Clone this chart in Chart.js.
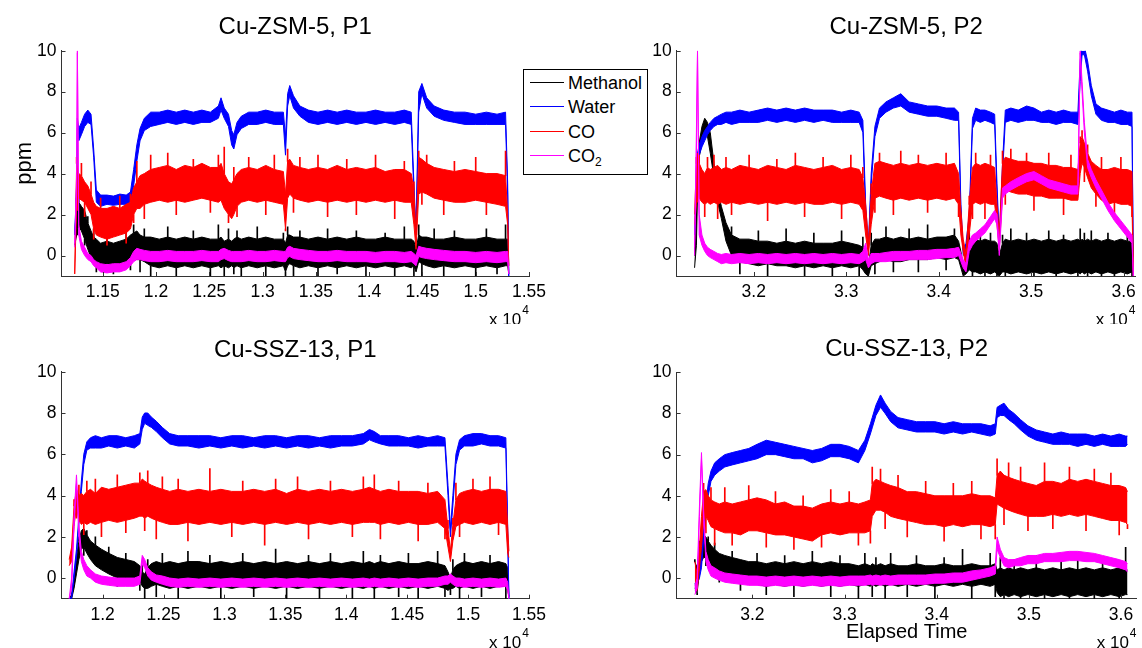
<!DOCTYPE html>
<html>
<head>
<meta charset="utf-8">
<script src="https://cdn.jsdelivr.net/npm/chart.js@4.4.1/dist/chart.umd.min.js"></script>
<style>
body { margin: 0; width: 1142px; height: 648px; overflow: hidden; background: #fff; position: relative;
       font-family: 'Liberation Sans', Arial, sans-serif; }
canvas { position: absolute; }
#legend { position: absolute; left: 523px; top: 69px; width: 123px; height: 104px; border: 1px solid #000; background: #fff; }
#legend .row { position: absolute; left: 0; height: 24px; line-height: 24px; font-size: 18px; color: #000; }
#legend .ln { position: absolute; left: 6px; top: 11px; width: 34px; height: 0; border-top: 1.5px solid; }
#legend .tx { position: absolute; left: 44px; top: 0; white-space: nowrap; }
#legend sub { font-size: 12px; vertical-align: -4px; }
</style>
</head>
<body>
<canvas id="zsmP1" width="571" height="324" style="left:0;top:0"></canvas>
<canvas id="zsmP2" width="571" height="324" style="left:571px;top:0"></canvas>
<canvas id="sszP1" width="571" height="324" style="left:0;top:324px"></canvas>
<canvas id="sszP2" width="571" height="324" style="left:571px;top:324px"></canvas>

<div id="legend">
  <div class="row" style="top:1px"><span class="ln" style="border-color:#000"></span><span class="tx">Methanol</span></div>
  <div class="row" style="top:25px"><span class="ln" style="border-color:#0000ff"></span><span class="tx">Water</span></div>
  <div class="row" style="top:50px"><span class="ln" style="border-color:#ff0000"></span><span class="tx">CO</span></div>
  <div class="row" style="top:74px"><span class="ln" style="border-color:#ff00ff"></span><span class="tx">CO<sub>2</sub></span></div>
</div>

<script>
// tick values
const yTicks = [0, 2, 4, 6, 8, 10];
const zsmP1Ticks = [11500, 12000, 12500, 13000, 13500, 14000, 14500, 15000, 15500];
const sszP1Ticks = [12000, 12500, 13000, 13500, 14000, 14500, 15000, 15500];
const p2Ticks = [32000, 33000, 34000, 35000, 36000];

// Cu-ZSM-5, P1  (Lo / Hi = edges of the dense noise band, Spk = single spike reading at that time)
const zsmP1T = [11237,11255,11262,11275,11300,11330,11360,11390,11415,11440,
  11480,11540,11600,11660,11720,11760,11790,11820,11850,11890,
  11950,12030,12110,12190,12270,12350,12430,12510,12585,12610,
  12640,12680,12710,12730,12760,12800,12870,12950,13030,13110,
  13195,13215,13235,13255,13290,13350,13430,13520,13610,13700,
  13790,13880,13970,14060,14150,14240,14330,14395,14420,14440,
  14465,14495,14540,14610,14700,14800,14900,15000,15100,15200,
  15280,15300,15310];
const zsmP1MethLo = [0.5,1.0,1.3,1.4,1.2,0.8,0.3,-0.1,-0.3,-0.4,
  -0.5,-0.4,-0.5,-0.4,-0.3,-0.2,-0.1,-0.2,-0.2,-0.3,
  -0.5,-0.6,-0.5,-0.6,-0.5,-0.6,-0.5,-0.6,-0.5,-0.6,
  -0.5,-0.6,-0.5,-0.6,-0.5,-0.6,-0.5,-0.6,-0.5,-0.6,
  -0.5,-0.8,-0.5,-0.4,-0.5,-0.6,-0.5,-0.6,-0.5,-0.6,
  -0.5,-0.6,-0.5,-0.6,-0.5,-0.6,-0.5,-0.6,-0.5,-0.8,
  -0.3,-0.4,-0.5,-0.6,-0.5,-0.6,-0.5,-0.6,-0.5,-0.6,
  -0.5,-0.5,-0.9];
const zsmP1MethHi = [1.0,2.5,2.7,2.6,2.4,2.2,1.6,1.2,0.9,0.8,
  0.6,0.7,0.6,0.7,0.8,1.0,1.1,1.2,1.0,0.9,
  0.9,0.8,0.9,0.8,0.9,0.8,0.9,0.8,0.8,0.9,
  0.7,0.8,0.7,0.8,0.9,0.8,0.9,0.8,0.9,0.8,
  0.8,0.6,1.0,1.0,0.9,0.9,0.8,0.9,0.8,0.9,
  0.8,0.9,0.8,0.8,0.9,0.8,0.8,0.8,0.7,0.3,
  1.0,0.9,0.9,0.8,0.8,0.9,0.8,0.8,0.9,0.8,
  0.8,0.8,-0.9];
const zsmP1MethSpk = [0.8,2.8,1.0,2.9,2.0,0.5,1.9,0.5,1.3,-0.8,
  0.0,1.2,-0.9,0.1,1.3,-0.7,1.5,0.5,-0.8,1.3,
  -1.0,0.2,1.4,-1.0,0.2,1.2,0.1,-1.0,1.5,0.2,
  -1.0,1.3,0.1,-0.9,1.2,-1.0,0.3,1.4,-1.0,0.2,
  1.1,-1.0,1.4,0.2,-1.0,1.2,0.1,-1.0,1.3,-0.9,
  0.2,1.2,-1.0,0.3,1.1,-1.0,1.4,0.1,-1.0,-0.5,
  1.5,-1.0,0.2,1.3,-1.0,1.2,0.2,-1.0,1.3,-0.9,
  1.5,0.1,-0.9];
const zsmP1WaterLo = [1,3,6.2,5.6,5.9,6.3,6.5,6.4,4.8,2.6,
  2.4,2.5,2.45,2.5,2.5,2.6,3.4,4.6,5.6,6.1,
  6.3,6.4,6.5,6.4,6.5,6.4,6.5,6.5,6.7,7.1,
  6.7,6.3,5.4,5.2,5.9,6.2,6.4,6.4,6.5,6.4,
  6.4,4.9,7.3,7.8,7.2,6.8,6.5,6.4,6.5,6.4,
  6.5,6.4,6.5,6.4,6.5,6.4,6.5,6.4,3,1,
  7.0,7.9,7.2,6.8,6.6,6.5,6.4,6.4,6.4,6.4,
  6.4,3,-1];
const zsmP1WaterHi = [1,3.5,6.7,6.2,6.5,6.9,7.1,6.9,5.2,3.2,
  2.95,2.95,2.9,3.0,2.95,3.1,4.2,5.4,6.2,6.7,
  7.0,7.0,7.1,7.0,7.1,7.0,7.1,7.0,7.3,7.7,
  7.2,6.9,6.1,5.9,6.5,6.8,7.0,7.0,7.1,7.0,
  7.0,5.8,7.9,8.3,7.8,7.3,7.1,7.0,7.1,7.0,
  7.1,7.0,7.0,7.1,7.0,7.0,7.1,7.0,3.5,1.2,
  8.0,8.4,7.7,7.3,7.1,7.0,7.0,6.9,7.0,6.9,
  7.0,3.5,-1];
const zsmP1CoLo = [-0.9,2.5,3.0,2.8,2.7,2.6,2.3,2.0,1.3,1.0,
  0.9,0.8,0.9,1.0,1.1,1.3,2.0,2.3,2.3,2.5,
  2.6,2.7,2.6,2.7,2.6,2.7,2.8,2.7,2.6,2.7,
  2.3,2.0,1.8,2.0,2.4,2.6,2.7,2.6,2.7,2.6,
  2.5,1.3,2.8,3.0,2.8,2.7,2.6,2.7,2.6,2.7,
  2.6,2.7,2.6,2.7,2.6,2.7,2.6,2.6,1.5,0.3,
  3.0,3.1,3.0,2.8,2.7,2.6,2.6,2.7,2.6,2.5,
  2.4,1.5,-0.5];
const zsmP1CoHi = [-0.9,4.5,4.3,4.0,3.9,3.6,3.4,3.0,2.6,2.4,
  2.3,2.3,2.4,2.3,2.5,2.6,3.3,3.6,3.9,4.0,
  4.2,4.3,4.4,4.2,4.4,4.3,4.5,4.3,4.3,4.5,
  4.0,3.6,3.5,3.7,4.0,4.2,4.3,4.2,4.4,4.2,
  4.1,3.0,4.6,4.7,4.4,4.3,4.2,4.3,4.2,4.4,
  4.2,4.3,4.2,4.3,4.1,4.2,4.2,4.0,3.2,1.0,
  4.8,4.7,4.5,4.3,4.2,4.1,4.2,4.1,4.0,4.0,
  3.9,2.0,-0.5];
const zsmP1CoSpk = [-0.9,4.8,2.2,3.5,4.5,1.9,3.0,3.6,0.8,2.0,
  2.8,0.5,1.5,2.9,0.6,3.0,1.6,4.6,3.0,1.8,
  4.9,3.5,5.0,2.0,3.5,4.7,3.6,2.1,4.9,3.5,
  5.3,1.6,2.5,4.3,1.9,3.4,4.8,3.4,2.0,4.9,
  3.3,1.2,5.2,3.8,2.1,4.8,3.4,4.9,1.9,3.5,
  4.7,2.0,3.4,4.9,3.3,1.8,4.6,3.3,3.6,0.6,
  5.1,2.5,4.9,3.5,2.0,4.6,3.4,4.8,2.0,3.3,
  5.1,1.8,-0.5];
const zsmP1Co2Lo = [0.4,3,9.9,1.0,0.3,0.0,-0.2,-0.3,-0.5,-0.6,
  -0.8,-0.85,-0.8,-0.8,-0.7,-0.5,-0.3,-0.2,-0.2,-0.25,
  -0.3,-0.3,-0.25,-0.3,-0.3,-0.3,-0.25,-0.3,-0.3,-0.2,
  -0.15,-0.25,-0.3,-0.3,-0.3,-0.3,-0.25,-0.3,-0.3,-0.25,
  -0.3,-0.3,-0.1,-0.05,-0.15,-0.2,-0.25,-0.3,-0.3,-0.25,
  -0.3,-0.3,-0.3,-0.35,-0.3,-0.3,-0.35,-0.3,-0.4,-0.5,
  -0.05,-0.1,-0.15,-0.2,-0.25,-0.3,-0.3,-0.35,-0.3,-0.35,
  -0.3,-0.3,-0.9];
const zsmP1Co2Hi = [0.6,4,10,1.5,0.7,0.4,0.1,0.0,-0.2,-0.3,
  -0.4,-0.45,-0.4,-0.4,-0.3,-0.1,0.2,0.35,0.3,0.25,
  0.2,0.2,0.25,0.2,0.2,0.2,0.25,0.2,0.2,0.3,
  0.35,0.25,0.2,0.2,0.2,0.2,0.25,0.2,0.2,0.25,
  0.2,0.2,0.4,0.45,0.35,0.3,0.25,0.2,0.2,0.25,
  0.2,0.2,0.2,0.15,0.2,0.2,0.15,0.2,0.1,0.0,
  0.45,0.4,0.35,0.3,0.25,0.2,0.2,0.15,0.2,0.15,
  0.2,0.2,-0.9];

// Cu-ZSM-5, P2
const zsmP2T = [31360,31380,31392,31410,31440,31470,31500,31530,31570,31610,
  31650,31700,31760,31850,31950,32050,32150,32250,32350,32450,
  32550,32650,32750,32850,32950,33050,33140,33180,33210,33240,
  33270,33310,33360,33430,33510,33590,33680,33780,33880,33980,
  34080,34170,34215,34240,34265,34295,34330,34365,34400,34450,
  34500,34560,34605,34630,34655,34690,34720,34780,34860,34950,
  35030,35110,35190,35270,35350,35430,35505,35530,35550,35575,
  35610,35650,35700,35760,35830,35900,35970,36040,36090,36105];
const zsmP2MethLo = [-0.6,0.5,3.0,4.8,5.5,6.0,5.8,5.0,3.8,2.6,
  1.8,0.7,0.0,-0.3,-0.4,-0.5,-0.4,-0.5,-0.5,-0.6,
  -0.5,-0.6,-0.5,-0.6,-0.5,-0.6,-0.5,-0.7,-0.9,-1,
  -0.5,-0.4,-0.3,-0.2,-0.3,-0.3,-0.2,-0.2,-0.2,-0.1,
  -0.2,-0.1,-0.2,-0.6,-1,-0.9,-0.7,-0.8,-0.8,-0.9,
  -0.8,-0.9,-0.8,-0.9,-1,-0.8,-0.8,-0.9,-0.8,-0.9,
  -0.8,-0.9,-0.8,-0.9,-0.8,-0.9,-0.8,-0.9,-0.8,-0.9,
  -0.8,-0.9,-0.8,-0.9,-0.8,-0.9,-0.8,-0.9,-0.8,-1];
const zsmP2MethHi = [0.0,2.5,4.5,5.5,6.3,6.7,6.5,6.0,4.5,3.2,
  2.4,1.6,1.0,0.8,0.8,0.7,0.7,0.6,0.7,0.6,
  0.7,0.6,0.6,0.6,0.7,0.6,0.5,0.4,0.2,-0.5,
  0.5,0.8,0.8,0.9,0.8,0.9,0.8,0.9,0.8,0.9,
  0.9,1.0,0.7,0.2,-0.5,-0.4,0.5,0.8,0.8,0.7,
  0.8,0.7,0.7,0.6,0.0,0.6,0.8,0.7,0.8,0.7,
  0.8,0.7,0.8,0.7,0.8,0.7,0.8,0.7,0.8,0.7,
  0.8,0.7,0.8,0.7,0.8,0.7,0.8,0.7,0.7,-1];
const zsmP2MethSpk = [-0.3,1.5,3.8,5.2,6.0,6.4,6.1,5.5,4.1,2.9,
  2.1,1.1,1.4,-0.9,0.2,1.2,-1.0,0.1,1.3,0.0,
  -1.0,1.1,0.0,-1.0,1.2,0.0,-1.0,0.9,-0.3,-0.8,
  1.1,-0.9,0.3,1.4,-0.8,0.3,1.3,-0.8,1.5,0.4,
  -0.7,1.3,0.2,-0.3,-0.8,-0.7,1.1,-1.0,0.0,1.2,
  -1.0,1.1,0.0,-1.0,-0.5,1.0,-1.0,1.3,0.0,1.1,
  -1.0,0.0,1.2,-1.0,1.0,0.0,-1.0,1.3,0.0,1.1,
  -1.0,1.2,0.0,-1.0,1.1,-1.0,0.0,1.0,-1.0,-1];
const zsmP2WaterLo = [1,3,4.5,4.9,5.3,5.6,5.9,6.1,6.3,6.4,
  6.4,6.5,6.4,6.5,6.5,6.5,6.6,6.5,6.6,6.5,
  6.6,6.5,6.6,6.5,6.5,6.5,6.5,6.0,2.0,0.2,
  3.5,5.8,6.7,7.0,7.2,7.3,7.0,6.9,6.8,6.8,
  6.7,6.6,6.6,2.0,0.0,0.3,1.5,6.2,6.6,6.5,
  6.6,6.5,6.4,3.0,0.5,4.0,6.5,6.6,6.5,6.6,
  6.6,6.5,6.5,6.4,6.5,6.5,6.4,8.5,9.8,9.8,
  9.0,7.8,6.9,6.6,6.5,6.5,6.4,6.4,6.3,-1];
const zsmP2WaterHi = [1,3.5,5.0,5.4,5.8,6.1,6.3,6.5,6.7,6.8,
  6.9,7.0,7.0,7.1,7.0,7.1,7.2,7.1,7.2,7.1,
  7.2,7.1,7.1,7.1,7.0,7.1,7.0,6.6,2.5,0.5,
  4.0,6.3,7.2,7.5,7.7,7.9,7.5,7.4,7.3,7.3,
  7.2,7.2,7.0,2.5,0.3,0.6,2.0,6.7,7.2,7.1,
  7.1,7.0,6.9,3.5,0.8,4.5,7.1,7.2,7.1,7.3,
  7.2,7.0,7.1,7.0,7.1,7.0,7.0,9.5,10.5,10.2,
  9.5,8.3,7.4,7.2,7.1,7.0,7.1,7.0,7.0,-1];
const zsmP2CoLo = [1.5,2.5,3.5,2.8,2.6,2.5,2.6,2.5,2.6,2.5,
  2.6,2.5,2.6,2.5,2.6,2.5,2.6,2.5,2.6,2.5,
  2.6,2.5,2.5,2.6,2.5,2.6,2.5,2.2,1.0,0.0,
  1.5,2.8,2.9,2.8,2.7,2.8,2.7,2.8,2.7,2.8,
  2.7,2.8,2.5,1.0,0.2,-0.6,1.0,2.5,2.6,2.5,
  2.6,2.5,2.5,1.5,0.3,3.0,3.2,3.1,3.0,3.0,
  2.9,2.9,2.8,2.8,2.8,2.7,2.7,4.0,4.5,4.3,
  3.8,3.3,3.0,2.7,2.5,2.6,2.5,2.5,2.4,-1];
const zsmP2CoHi = [2.0,4.5,5.0,4.5,4.2,4.0,4.3,4.2,4.3,4.4,
  4.2,4.3,4.2,4.4,4.3,4.2,4.4,4.3,4.2,4.4,
  4.3,4.2,4.3,4.4,4.2,4.3,4.2,3.8,2.5,0.6,
  3.0,4.5,4.6,4.5,4.4,4.5,4.4,4.5,4.4,4.5,
  4.4,4.5,4.0,2.2,0.8,0.1,2.5,4.3,4.5,4.4,
  4.5,4.4,4.3,2.5,1.0,4.5,4.8,4.7,4.6,4.6,
  4.5,4.5,4.4,4.4,4.3,4.3,4.2,5.5,5.8,5.5,
  5.0,4.6,4.4,4.2,4.2,4.3,4.2,4.2,4.1,-1];
const zsmP2CoSpk = [1.8,4.8,2.6,4.9,3.4,1.9,4.8,3.3,4.9,1.8,
  3.4,4.8,2.0,3.5,4.9,3.4,1.7,4.7,3.4,5.0,
  1.9,3.5,4.8,3.3,1.8,4.9,3.4,4.3,1.8,0.3,
  3.5,2.1,5.0,3.6,2.0,5.1,3.5,4.9,2.1,3.6,
  5.0,3.5,1.9,1.6,0.5,-0.3,2.9,1.8,5.0,3.4,
  1.8,4.9,3.4,2.0,0.6,5.1,2.5,5.2,3.8,5.0,
  2.2,3.7,5.0,3.6,2.0,4.9,3.5,5.8,6.1,3.6,
  5.4,3.9,2.4,4.8,3.4,1.9,4.8,3.3,1.9,-1];
const zsmP2Co2Lo = [0.0,5,9.9,1.0,0.5,0.2,0.0,-0.1,-0.2,-0.3,
  -0.4,-0.35,-0.4,-0.35,-0.4,-0.35,-0.4,-0.35,-0.4,-0.35,
  -0.4,-0.35,-0.4,-0.35,-0.4,-0.35,-0.4,-0.3,-0.2,-0.6,
  -0.4,-0.3,-0.3,-0.3,-0.25,-0.25,-0.2,-0.2,-0.2,-0.15,
  -0.1,-0.1,0.0,-0.3,-0.6,-0.8,0.2,0.5,0.7,0.9,
  1.1,1.5,1.8,1.5,0.0,2.8,3.0,3.2,3.4,3.6,
  3.7,3.5,3.3,3.2,3.1,3.0,3.0,9.9,8.0,6.0,
  4.3,3.8,3.3,2.8,2.2,1.7,1.3,0.9,0.6,-1];
const zsmP2Co2Hi = [0.4,6,10,2.0,1.0,0.6,0.4,0.3,0.2,0.1,
  0.05,0.1,0.05,0.1,0.05,0.1,0.05,0.1,0.05,0.1,
  0.05,0.1,0.05,0.1,0.05,0.1,0.05,0.2,0.6,-0.2,
  0.1,0.1,0.1,0.15,0.2,0.2,0.2,0.25,0.25,0.3,
  0.3,0.35,0.4,0.1,-0.2,-0.4,0.7,1.0,1.1,1.3,
  1.5,1.9,2.2,2.0,0.5,3.3,3.4,3.6,3.8,4.0,
  4.1,3.9,3.7,3.6,3.5,3.4,3.4,10,8.5,6.5,
  4.7,4.2,3.7,3.2,2.6,2.1,1.7,1.3,1.0,-1];

// Cu-SSZ-13, P1
const sszP1T = [11725,11745,11765,11785,11805,11825,11845,11870,11900,11940,
  11990,12050,12120,12190,12260,12305,12325,12345,12370,12400,
  12440,12490,12550,12620,12700,12790,12880,12970,13060,13150,
  13240,13330,13420,13510,13600,13690,13780,13870,13960,14050,
  14140,14190,14230,14280,14350,14430,14510,14590,14670,14750,
  14810,14835,14855,14875,14900,14930,14970,15040,15110,15180,
  15250,15310,15325,15335];
const sszP1MethLo = [-1,-1,-0.5,0.2,0.9,1.4,1.5,1.2,0.9,0.6,
  0.4,0.2,0.0,-0.1,-0.1,-0.1,-0.4,-0.5,-0.5,-0.4,
  -0.3,-0.4,-0.5,-0.4,-0.5,-0.4,-0.5,-0.4,-0.5,-0.4,
  -0.5,-0.4,-0.5,-0.4,-0.5,-0.4,-0.5,-0.4,-0.5,-0.4,
  -0.5,-0.4,-0.5,-0.4,-0.5,-0.4,-0.5,-0.4,-0.5,-0.4,
  -0.5,-0.6,-0.5,-0.5,-0.4,-0.5,-0.4,-0.5,-0.4,-0.5,
  -0.4,-0.4,-0.6,-0.9];
const sszP1MethHi = [-1,-0.8,0.0,1.0,1.8,2.3,2.4,2.1,1.8,1.6,
  1.4,1.2,1.0,0.9,0.8,0.6,0.3,0.2,0.5,0.7,
  0.8,0.7,0.8,0.7,0.8,0.8,0.7,0.8,0.7,0.8,
  0.7,0.8,0.7,0.8,0.7,0.8,0.7,0.8,0.7,0.8,
  0.7,0.8,0.7,0.8,0.7,0.8,0.7,0.7,0.8,0.7,
  0.6,0.3,0.0,0.4,0.6,0.7,0.8,0.7,0.8,0.7,
  0.8,0.7,0.5,-0.9];
const sszP1MethSpk = [-1,-0.9,-0.2,0.6,2.0,1.8,1.1,2.3,1.3,2.0,
  0.9,1.5,-0.4,1.2,0.3,-0.6,0.6,-1.0,0.9,0.2,
  -0.9,1.2,0.2,-1.0,1.3,0.2,1.1,-1.0,0.1,1.2,
  -0.9,0.2,1.4,-1.0,0.1,1.1,-1.0,1.2,0.2,-1.0,
  1.3,0.1,-1.0,1.1,0.2,-0.9,1.2,-1.0,0.2,1.3,
  -0.9,-0.2,-0.8,0.9,0.1,-1.0,1.2,0.1,-0.9,1.1,
  0.2,-1.0,0.0,-0.9];
const sszP1WaterLo = [-1,-1,0,1.0,2.6,4.2,5.5,6.2,6.3,6.3,
  6.3,6.4,6.3,6.4,6.3,6.5,7.2,7.5,7.4,7.3,
  7.1,6.8,6.5,6.4,6.4,6.3,6.4,6.3,6.4,6.3,
  6.4,6.3,6.4,6.3,6.4,6.3,6.4,6.3,6.4,6.4,
  6.5,6.7,6.6,6.5,6.4,6.4,6.4,6.3,6.4,6.4,
  6.4,4.0,2.0,3.5,5.5,6.2,6.4,6.4,6.5,6.4,
  6.4,6.3,2.0,-1];
const sszP1WaterHi = [-1,-0.9,0.3,1.4,3.0,4.7,6.0,6.6,6.8,6.9,
  6.8,6.9,6.9,6.8,6.9,7.0,7.8,8.0,8.0,7.8,
  7.6,7.3,7.0,6.9,6.9,6.9,6.9,6.8,6.9,6.9,
  6.8,6.9,6.9,6.8,6.9,6.9,6.8,6.9,6.9,6.9,
  7.0,7.2,7.1,6.9,6.9,6.9,6.8,6.9,6.8,6.9,
  6.8,4.5,2.4,4.0,6.0,6.7,6.9,7.0,7.0,6.9,
  6.9,6.8,2.5,-1];
const sszP1CoLo = [0.6,0.8,2.5,3.5,2.8,2.6,2.7,2.6,2.7,2.6,
  2.7,2.8,2.7,2.8,2.9,3.0,3.0,2.9,3.0,2.9,
  2.8,2.7,2.6,2.6,2.7,2.6,2.7,2.6,2.7,2.6,
  2.7,2.6,2.7,2.6,2.7,2.6,2.7,2.6,2.7,2.6,
  2.7,2.7,2.7,2.6,2.7,2.6,2.7,2.6,2.6,2.7,
  2.4,1.5,0.8,1.8,2.5,2.6,2.7,2.6,2.7,2.6,
  2.7,2.6,1.2,1.0];
const sszP1CoHi = [0.9,1.5,3.5,4.3,4.0,4.1,4.0,4.2,4.3,4.1,
  4.4,4.3,4.4,4.5,4.6,4.6,4.8,4.7,4.6,4.5,
  4.4,4.3,4.2,4.3,4.2,4.3,4.2,4.3,4.2,4.2,
  4.3,4.2,4.3,4.1,4.3,4.2,4.3,4.2,4.3,4.2,
  4.3,4.4,4.3,4.2,4.3,4.2,4.2,4.2,4.1,4.2,
  3.8,2.4,1.3,2.6,3.8,4.1,4.2,4.3,4.2,4.3,
  4.3,4.2,2.5,1.3];
const sszP1CoSpk = [0.8,1.2,3.8,2.9,4.5,3.3,2.1,4.7,3.5,4.8,
  2.0,3.6,5.0,2.2,3.7,5.1,3.8,2.3,5.2,3.6,
  1.9,4.9,3.4,4.8,1.8,3.4,5.3,3.5,2.0,4.7,
  3.5,1.6,4.8,3.3,4.9,1.9,3.5,4.7,3.5,2.0,
  4.9,3.5,5.0,1.9,3.5,4.7,3.4,1.8,4.6,3.4,
  1.9,2.8,1.0,2.9,4.6,2.0,3.5,4.8,3.4,4.9,
  2.1,3.4,1.8,1.1];
const sszP1Co2Lo = [-1,-0.5,2.5,4.6,2.0,0.8,0.4,0.1,0.0,-0.2,
  -0.3,-0.35,-0.4,-0.4,-0.4,-0.3,0.7,0.5,0.1,-0.1,
  -0.2,-0.3,-0.4,-0.45,-0.4,-0.45,-0.4,-0.45,-0.4,-0.45,
  -0.4,-0.45,-0.4,-0.45,-0.4,-0.45,-0.4,-0.45,-0.4,-0.45,
  -0.4,-0.45,-0.4,-0.45,-0.4,-0.45,-0.4,-0.45,-0.4,-0.4,
  -0.3,-0.3,-0.2,-0.3,-0.4,-0.4,-0.45,-0.4,-0.45,-0.4,
  -0.45,-0.4,-0.6,-1];
const sszP1Co2Hi = [-1,0,3.0,5.0,2.6,1.3,0.9,0.6,0.4,0.2,
  0.1,0.05,0.0,0.0,0.0,0.1,1.1,0.9,0.5,0.3,
  0.15,0.1,0.0,-0.05,0.0,-0.05,0.0,-0.05,0.0,-0.05,
  0.0,-0.05,0.0,-0.05,0.0,-0.05,0.0,-0.05,0.0,-0.05,
  0.0,-0.05,0.0,-0.05,0.0,-0.05,0.0,-0.05,0.0,0.0,
  0.1,0.1,0.2,0.1,0.0,0.0,-0.05,0.0,-0.05,0.0,
  -0.05,0.0,-0.2,-1];

// Cu-SSZ-13, P2
const sszP2T = [31375,31400,31425,31447,31470,31495,31520,31550,31590,31640,
  31700,31780,31870,31960,32050,32150,32250,32350,32450,32550,
  32650,32750,32850,32950,33050,33150,33220,33280,33300,33340,
  33390,33440,33500,33580,33680,33780,33880,33980,34080,34180,
  34280,34380,34480,34580,34635,34655,34690,34730,34780,34840,
  34910,34990,35080,35170,35260,35350,35440,35530,35620,35710,
  35800,35890,35980,36050,36070];
const sszP2MethLo = [-0.6,-0.7,0.3,0.8,1.0,1.0,0.8,0.6,0.4,0.2,
  0.1,0.0,-0.1,-0.2,-0.3,-0.4,-0.3,-0.4,-0.3,-0.4,
  -0.3,-0.4,-0.3,-0.4,-0.3,-0.4,-0.3,-0.4,-0.3,-0.4,
  -0.3,-0.4,-0.3,-0.4,-0.3,-0.4,-0.3,-0.4,-0.3,-0.4,
  -0.3,-0.4,-0.3,-0.4,-0.3,-0.7,-0.9,-0.8,-0.9,-0.8,
  -0.9,-0.8,-0.9,-0.8,-0.9,-0.8,-0.9,-0.8,-0.9,-0.8,
  -0.9,-0.8,-0.9,-0.8,-0.8];
const sszP2MethHi = [0.8,0.5,1.5,2.0,2.1,2.0,1.8,1.6,1.4,1.2,
  1.1,1.0,0.9,0.8,0.8,0.7,0.8,0.7,0.8,0.7,
  0.8,0.7,0.8,0.7,0.7,0.6,0.7,0.6,0.7,0.6,
  0.7,0.6,0.7,0.6,0.6,0.7,0.6,0.6,0.7,0.6,
  0.6,0.7,0.6,0.6,0.7,0.4,0.5,0.4,0.5,0.4,
  0.5,0.4,0.5,0.4,0.5,0.4,0.5,0.4,0.5,0.4,
  0.5,0.4,0.5,0.4,0.4];
const sszP2MethSpk = [0.9,-0.8,1.8,1.4,2.4,0.6,2.0,1.1,1.7,-0.2,
  0.6,1.3,-0.6,0.3,1.2,-0.8,0.2,1.1,-0.9,0.1,
  1.3,0.1,-0.9,1.1,0.2,-1.0,1.2,0.1,-0.9,1.0,
  0.2,-1.0,1.2,0.1,-0.9,1.1,0.1,-1.0,1.0,0.2,
  1.4,-1.0,0.1,1.2,-0.9,0.0,1.0,-1.0,0.0,0.9,
  -1.0,0.0,1.1,-1.0,0.0,0.9,-1.0,1.2,0.0,-1.0,
  1.0,0.0,-1.0,1.5,0.0];
const sszP2WaterLo = [-0.5,-0.3,0,0.5,1.8,3.0,4.0,4.7,5.0,5.2,
  5.4,5.5,5.6,5.7,5.8,6.0,6.0,5.9,5.8,5.8,
  5.6,5.7,5.9,5.9,5.8,5.6,6.2,7.0,7.3,7.9,
  8.3,8.0,7.6,7.3,7.2,7.1,7.1,7.1,7.0,7.1,
  7.0,7.1,7.0,6.9,7.0,7.8,7.9,7.9,7.7,7.5,
  7.2,6.9,6.7,6.6,6.5,6.5,6.5,6.4,6.5,6.4,
  6.5,6.4,6.4,6.4,6.5];
const sszP2WaterHi = [-0.3,0,0.4,1.0,2.4,3.6,4.6,5.2,5.6,5.8,
  6.0,6.1,6.2,6.3,6.5,6.7,6.6,6.5,6.4,6.3,
  6.2,6.3,6.5,6.5,6.4,6.2,6.7,7.5,7.8,8.4,
  8.9,8.5,8.1,7.8,7.7,7.6,7.6,7.6,7.5,7.6,
  7.5,7.5,7.5,7.4,7.5,8.3,8.4,8.5,8.2,8.0,
  7.7,7.4,7.2,7.1,7.0,7.1,7.0,7.0,7.0,6.9,
  7.0,6.9,7.0,6.9,6.9];
const sszP2CoLo = [-0.5,-0.6,0.5,1.5,2.8,3.0,2.8,2.5,2.4,2.3,
  2.2,2.2,2.1,2.3,2.3,2.2,2.1,2.1,2.0,1.9,
  1.8,2.1,2.2,2.1,2.2,2.2,2.2,2.3,3.0,3.3,
  3.3,3.2,3.0,2.9,2.8,2.7,2.6,2.6,2.5,2.6,
  2.5,2.6,2.6,2.5,2.6,3.6,3.5,3.4,3.3,3.2,
  3.1,3.0,3.0,3.0,3.1,3.0,3.1,3.0,3.1,3.0,
  2.9,2.8,2.8,2.7,2.6];
const sszP2CoHi = [0.8,0.2,1.5,3.0,4.2,4.3,4.0,3.8,3.7,3.6,
  3.7,3.6,3.7,3.8,3.9,3.8,3.6,3.7,3.5,3.5,
  3.4,3.6,3.7,3.6,3.7,3.6,3.7,3.8,4.6,4.8,
  4.7,4.6,4.5,4.4,4.2,4.2,4.1,4.0,4.0,4.0,
  4.0,4.1,4.0,4.0,3.9,5.0,5.2,5.0,4.9,4.8,
  4.7,4.6,4.5,4.7,4.7,4.6,4.8,4.7,4.8,4.7,
  4.6,4.5,4.5,4.4,4.2];
const sszP2CoSpk = [0.2,-0.2,1.0,2.2,4.6,2.2,3.4,4.4,1.6,3.0,
  4.4,1.6,2.9,4.5,3.1,1.5,4.2,2.9,1.4,4.0,
  2.6,1.5,4.3,2.8,4.2,1.6,2.9,1.7,5.4,3.9,
  5.3,2.4,3.8,5.0,2.0,3.5,4.7,3.3,1.8,4.6,
  3.2,4.7,1.9,3.3,1.9,5.8,4.3,2.6,5.6,4.0,
  5.4,2.3,3.8,5.6,2.4,3.8,5.4,3.9,2.3,5.3,
  3.8,5.1,2.1,3.5,2.4];
const sszP2Co2Lo = [-0.8,-0.5,3.0,5.8,2.8,0.8,0.4,0.1,0.0,-0.1,
  -0.2,-0.25,-0.3,-0.35,-0.35,-0.4,-0.35,-0.4,-0.35,-0.4,
  -0.35,-0.4,-0.35,-0.4,-0.35,-0.35,-0.35,-0.3,-0.35,-0.3,
  -0.35,-0.3,-0.35,-0.3,-0.3,-0.3,-0.3,-0.25,-0.25,-0.2,
  -0.2,-0.1,0.0,0.1,0.2,1.4,1.0,0.6,0.5,0.6,
  0.6,0.7,0.7,0.8,0.8,0.8,0.85,0.85,0.8,0.8,
  0.7,0.6,0.5,0.4,0.3];
const sszP2Co2Hi = [-0.4,0,3.5,6.1,3.3,1.3,0.9,0.6,0.5,0.35,
  0.25,0.2,0.15,0.1,0.1,0.05,0.1,0.05,0.1,0.05,
  0.1,0.05,0.1,0.05,0.1,0.1,0.1,0.15,0.1,0.15,
  0.1,0.15,0.1,0.15,0.15,0.15,0.15,0.2,0.2,0.25,
  0.25,0.35,0.4,0.5,0.6,2.0,1.4,1.0,0.9,0.9,
  1.0,1.1,1.1,1.2,1.2,1.25,1.3,1.3,1.25,1.2,
  1.1,1.0,0.9,0.8,0.7];

const FONT = "'Liberation Sans', Arial, sans-serif";
Chart.defaults.font.family = FONT;
Chart.defaults.color = '#000';

// MATLAB style: ticks pointing into the axes, plus the "x 10^4" exponent label
const matlabAxes = {
    id: 'matlabAxes',
    afterDraw(chart) {
        const {ctx, chartArea: a, scales: {x, y}} = chart;
        ctx.save();
        ctx.strokeStyle = '#333';
        ctx.lineWidth = 1;
        ctx.beginPath();
        x.ticks.forEach(t => {
            const px = Math.round(x.getPixelForValue(t.value)) + 0.5;
            ctx.moveTo(px, a.bottom);
            ctx.lineTo(px, a.bottom - 4);
        });
        y.ticks.forEach(t => {
            const py = Math.round(y.getPixelForValue(t.value)) + 0.5;
            ctx.moveTo(a.left, py);
            ctx.lineTo(a.left + 4, py);
        });
        ctx.stroke();
        ctx.fillStyle = '#000';
        ctx.textBaseline = 'alphabetic';
        ctx.font = '17px ' + FONT;
        const x0 = a.right - 40;
        ctx.fillText('x 10', x0, a.bottom + 49);
        const w = ctx.measureText('x 10').width;
        ctx.font = '12px ' + FONT;
        ctx.fillText('4', x0 + w + 1, a.bottom + 38);
        ctx.restore();
    }
};

const panels = [
    {id: 'zsmP1', title: 'Cu-ZSM-5, P1', t: zsmP1T,
     series: [[zsmP1MethLo, zsmP1MethHi, zsmP1MethSpk], [zsmP1WaterLo, zsmP1WaterHi],
              [zsmP1CoLo, zsmP1CoHi, zsmP1CoSpk], [zsmP1Co2Lo, zsmP1Co2Hi]],
     xMin: 11113, xMax: 15500, xTicks: zsmP1Ticks,
     yWidth: 61.5, padRight: 42, padTop: 12.6, titleGap: 9.3, xHeight: 48, yTitle: 'ppm'},
    {id: 'zsmP2', title: 'Cu-ZSM-5, P2', t: zsmP2T,
     series: [[zsmP2MethLo, zsmP2MethHi, zsmP2MethSpk], [zsmP2WaterLo, zsmP2WaterHi],
              [zsmP2CoLo, zsmP2CoHi, zsmP2CoSpk], [zsmP2Co2Lo, zsmP2Co2Hi]],
     xMin: 31167, xMax: 36130, xTicks: p2Ticks,
     yWidth: 105.7, padRight: 5.3, padTop: 12.9, titleGap: 9.0, xHeight: 48},
    {id: 'sszP1', title: 'Cu-SSZ-13, P1', t: sszP1T,
     series: [[sszP1MethLo, sszP1MethHi, sszP1MethSpk], [sszP1WaterLo, sszP1WaterHi],
              [sszP1CoLo, sszP1CoHi, sszP1CoSpk], [sszP1Co2Lo, sszP1Co2Hi]],
     xMin: 11662, xMax: 15500, xTicks: sszP1Ticks,
     yWidth: 61.5, padRight: 42, padTop: 11.6, titleGap: 7.3, xHeight: 49.3},
    {id: 'sszP2', title: 'Cu-SSZ-13, P2', t: sszP2T,
     series: [[sszP2MethLo, sszP2MethHi, sszP2MethSpk], [sszP2WaterLo, sszP2WaterHi],
              [sszP2CoLo, sszP2CoHi, sszP2CoSpk], [sszP2Co2Lo, sszP2Co2Hi]],
     xMin: 31177, xMax: 36170, xTicks: p2Ticks,
     yWidth: 105.6, padRight: 5.3, padTop: 10.6, titleGap: 8.9, xHeight: 49.3, xTitle: 'Elapsed Time'}
];

const colors = ['#000000', '#0000ff', '#ff0000', '#ff00ff'];
const drawOrder = [4, 3, 2, 1];   // methanol at the back, CO2 on top

panels.forEach(p => {
    const datasets = [];
    p.series.forEach(([lo, hi, spk], k) => {
        [lo, hi, spk].forEach(arr => {
            if (arr && arr.length !== p.t.length) {
                throw new Error(p.id + ' series ' + k + ' has ' + arr.length + ' values, expected ' + p.t.length);
            }
        });
        const common = {borderColor: colors[k], backgroundColor: colors[k], order: drawOrder[k]};
        if (spk) {
            // spikes sticking out of the band: thin floating bars from the band edge to the reading
            const bars = [];
            p.t.forEach((x, i) => {
                if (spk[i] > hi[i]) bars.push({x, y: [hi[i], spk[i]]});
                else if (spk[i] < lo[i]) bars.push({x, y: [spk[i], lo[i]]});
            });
            datasets.push(Object.assign({}, common, {type: 'bar', data: bars, barThickness: 1,
                                                     grouped: false, borderWidth: 0}));
        }
        const line = Object.assign({}, common, {type: 'line', borderWidth: 1, pointRadius: 0, tension: 0});
        datasets.push(Object.assign({}, line, {data: p.t.map((x, i) => ({x, y: lo[i]})), fill: false}));
        datasets.push(Object.assign({}, line, {data: p.t.map((x, i) => ({x, y: hi[i]})), fill: '-1'}));
    });

    new Chart(document.getElementById(p.id), {
        type: 'line',
        data: {datasets},
        plugins: [matlabAxes],
        options: {
            responsive: false,
            animation: false,
            events: [],
            layout: {padding: {left: 0, right: p.padRight, top: p.padTop, bottom: 0}},
            plugins: {
                legend: {display: false},
                tooltip: {enabled: false},
                title: {
                    display: true, text: p.title, fullSize: false, color: '#000',
                    font: {size: 24, weight: 'normal'},
                    padding: {top: 0, bottom: p.titleGap}
                }
            },
            scales: {
                x: {
                    type: 'linear', min: p.xMin, max: p.xMax, z: 1, offset: false,
                    afterBuildTicks: s => { s.ticks = p.xTicks.map(v => ({value: v})); },
                    afterFit: s => { s.height = p.xHeight; },
                    grid: {display: false, drawTicks: false, offset: false},
                    border: {display: true, color: '#333', width: 1},
                    ticks: {color: '#000', font: {size: 17.5}, padding: 6, maxRotation: 0, autoSkip: false,
                            callback: v => String(v / 10000)},
                    title: {display: !!p.xTitle, text: p.xTitle || '', color: '#000',
                            font: {size: 20}, padding: {top: 0, bottom: 4}}
                },
                y: {
                    min: -1, max: 10, z: 1,
                    afterBuildTicks: s => { s.ticks = yTicks.map(v => ({value: v})); },
                    afterFit: s => { s.width = p.yWidth; },
                    grid: {display: false, drawTicks: false},
                    border: {display: true, color: '#333', width: 1},
                    ticks: {color: '#000', font: {size: 17.5}, padding: 5},
                    title: {display: !!p.yTitle, text: p.yTitle || '', color: '#000',
                            font: {size: 22}, padding: {top: 11.6, bottom: 0}}
                }
            }
        }
    });
});
</script>
</body>
</html>
